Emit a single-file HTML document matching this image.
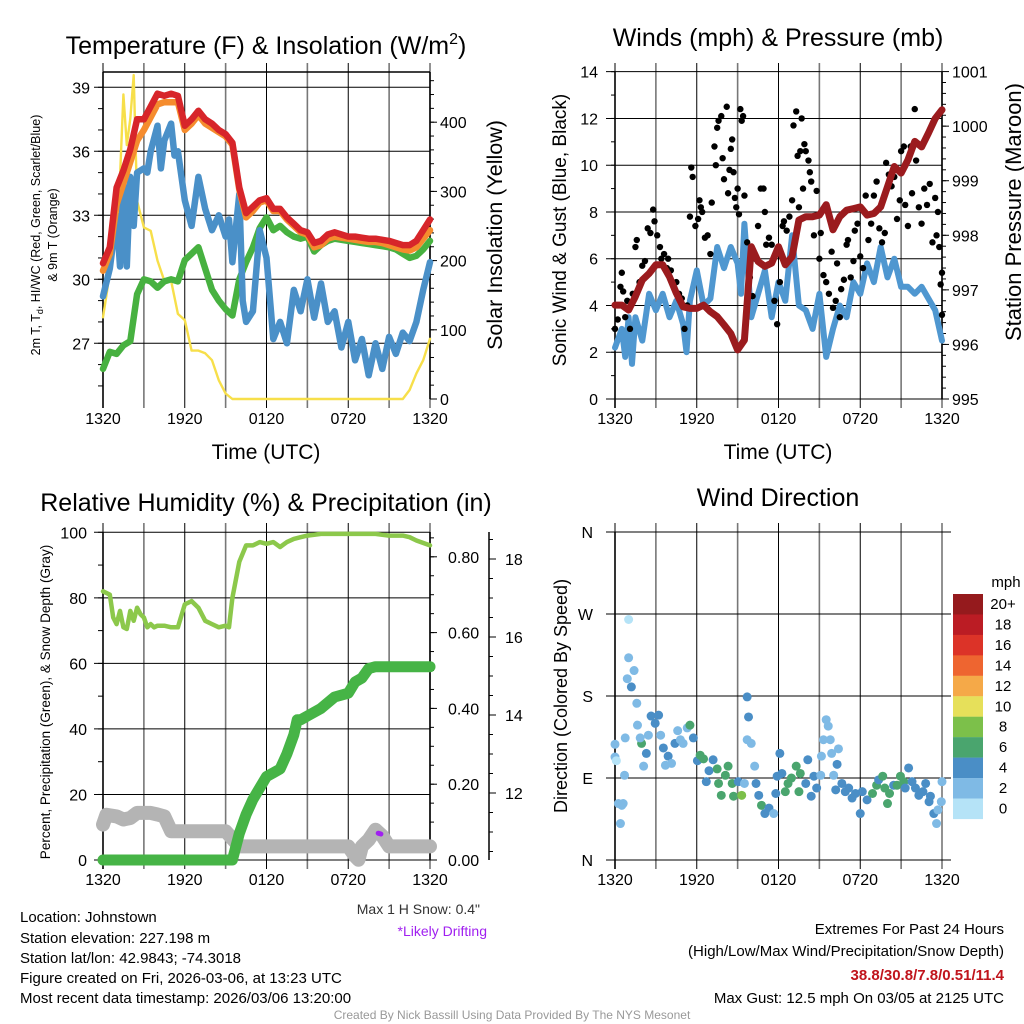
<!DOCTYPE html>
<html><head><meta charset="utf-8"><style>
body{margin:0;background:#fff}
svg{display:block;font-family:"Liberation Sans",sans-serif}
</style></head><body>
<svg id="s" width="1024" height="1024" viewBox="0 0 1024 1024" xmlns="http://www.w3.org/2000/svg">
<g id="g"></g>
<text x="266" y="54" font-size="25" text-anchor="middle">Temperature (F) &amp; Insolation (W/m<tspan dy="-10" font-size="16">2</tspan><tspan dy="10">)</tspan></text>
<text x="778" y="46" font-size="25" text-anchor="middle">Winds (mph) &amp; Pressure (mb)</text>
<text x="266" y="511" font-size="25" text-anchor="middle">Relative Humidity (%) &amp; Precipitation (in)</text>
<text x="778" y="506" font-size="25" text-anchor="middle">Wind Direction</text>
<text x="266" y="459" font-size="21" text-anchor="middle">Time (UTC)</text>
<text x="778" y="459" font-size="21" text-anchor="middle">Time (UTC)</text>
<text transform="translate(40,235) rotate(-90)" font-size="12.5" text-anchor="middle">2m T, T<tspan font-size="9" dy="3">d</tspan><tspan dy="-3">, HI/WC (Red, Green, Scarlet/Blue)</tspan></text>
<text transform="translate(57,235) rotate(-90)" font-size="12.5" text-anchor="middle">&amp; 9m T (Orange)</text>
<text transform="translate(502,235) rotate(-90)" font-size="21.5" text-anchor="middle">Solar Insolation (Yellow)</text>
<text transform="translate(566,230) rotate(-90)" font-size="19" text-anchor="middle">Sonic Wind &amp; Gust (Blue, Black)</text>
<text transform="translate(1021,212) rotate(-90)" font-size="22" text-anchor="middle">Station Pressure (Maroon)</text>
<text transform="translate(50,702) rotate(-90)" font-size="13.5" text-anchor="middle">Percent, Precipitation (Green), &amp; Snow Depth (Gray)</text>
<text transform="translate(567,696) rotate(-90)" font-size="18" text-anchor="middle">Direction (Colored By Speed)</text>
<g font-size="15">
<text x="20" y="922">Location: Johnstown</text>
<text x="20" y="943">Station elevation: 227.198 m</text>
<text x="20" y="963">Station lat/lon: 42.9843; -74.3018</text>
<text x="20" y="983">Figure created on Fri, 2026-03-06, at 13:23 UTC</text>
<text x="20" y="1003">Most recent data timestamp: 2026/03/06 13:20:00</text>
</g>
<text x="480" y="914" font-size="14" text-anchor="end" fill="#333">Max 1 H Snow: 0.4"</text>
<text x="487" y="936" font-size="14" text-anchor="end" fill="#a020f0">*Likely Drifting</text>
<g font-size="15" text-anchor="end">
<text x="1004" y="934">Extremes For Past 24 Hours</text>
<text x="1004" y="956">(High/Low/Max Wind/Precipitation/Snow Depth)</text>
<text x="1004" y="980" fill="#c0141c" font-weight="bold">38.8/30.8/7.8/0.51/11.4</text>
<text x="1004" y="1003">Max Gust: 12.5 mph On 03/05 at 2125 UTC</text>
</g>
<text x="512" y="1019" font-size="12" text-anchor="middle" fill="#999">Created By Nick Bassill Using Data Provided By The NYS Mesonet</text>
</svg>
<script>
// ---------- data ----------
const tHours=[0,0.5,1,1.5,2,2.5,3,3.5,4,4.5,5,5.5,6,6.5,7,7.5,8,8.5,9,9.5,10,10.5,11,11.5,12,12.5,13,13.5,14,14.5,15,15.5,16,16.5,17,17.5,18,18.5,19,19.5,20,20.5,21,21.5,22,22.5,23,23.5,24];
const tempT=[30.75,31.5,34.3,35.1,36.1,37.5,37.5,38.1,38.7,38.6,38.7,38.6,37.2,37.5,37.9,37.5,37.3,37.0,36.8,36.4,34.3,33.1,33.4,33.7,33.8,33.3,33.3,32.9,32.6,32.3,32.2,31.7,31.8,32.1,32.2,32.1,32.0,32.0,31.95,31.9,31.9,31.85,31.8,31.7,31.6,31.6,31.8,32.3,32.8];
const temp9m=[30.4,31.2,33.5,34.5,35.5,36.5,37.0,37.6,38.2,38.3,38.3,38.3,37.0,37.3,37.7,37.3,37.1,36.9,36.7,36.3,34.2,32.9,33.2,33.6,33.7,33.2,33.2,32.8,32.5,32.2,32.1,31.5,31.6,31.9,32.0,31.95,31.9,31.85,31.8,31.75,31.75,31.7,31.6,31.5,31.4,31.35,31.5,31.9,32.3];
const dewT=[25.8,26.6,26.5,26.9,27.1,29.3,30.0,29.9,29.6,29.9,30.0,29.9,30.9,31.2,31.5,30.5,29.5,29.0,28.6,28.3,30.0,30.8,31.5,32.4,32.9,32.3,32.5,32.2,32.0,31.9,32.0,31.3,31.6,31.8,31.9,31.85,31.8,31.75,31.7,31.65,31.6,31.55,31.5,31.4,31.2,31.0,31.1,31.4,31.8];
const wcHours=[0,0.5,1,1.25,1.5,1.75,2,2.25,2.5,3,3.25,3.5,4,4.25,4.5,5,5.25,5.5,6,6.5,7,7.5,8,8.5,9,9.25,9.5,10,10.25,10.5,11,11.5,12,12.5,13,13.5,14,14.5,15,15.5,16,16.5,17,17.5,18,18.5,19,19.5,20,20.5,21,21.5,22,22.5,23,23.5,24];
const wcT=[29.2,30.5,33,30.6,34.5,30.6,34.8,32.5,35,35.2,35.0,36,37.2,35.2,36.5,37.3,35.8,36.0,33.7,32.5,34.8,33.3,32.3,33.0,32.0,32.8,30.8,34,29,28,28.5,32.3,31.0,27.2,28.0,27.0,29.5,28.5,30.0,28.2,29.8,28.0,28.5,26.8,28.0,26.2,27.2,25.5,27.0,25.8,27.3,26.5,27.5,27.1,28.0,29.5,30.8];
const solarHours=[0,0.33,0.66,1,1.25,1.5,1.75,2,2.25,2.5,3,3.5,4,4.5,5,5.5,6,6.5,7,7.5,8,8.5,9,9.5,22,22.5,23,23.5,24];
const solar=[118,160,250,243,320,440,367,405,468,286,248,243,200,171,171,123,114,70,70,66,56,27,8,0,0,13,37,56,87];
const windHours=[0,0.5,0.75,1,1.25,1.5,2,2.5,3,3.5,4,4.5,5,5.25,5.5,6,6.5,7,7.5,8,8.5,9,9.25,9.5,10,10.5,11,11.5,12,12.5,13,13.5,14,14.5,15,15.5,16,16.5,17,17.5,18,18.5,19,19.5,20,20.5,21,21.5,22,22.5,23,23.5,24];
const windSpd=[2.2,3.0,1.8,3.5,1.5,3.5,2.5,4.5,3.8,4.5,3.5,4.2,3.2,2.0,4.2,5.5,4.0,4.3,6.5,5.6,6.5,5.8,4.5,7.5,3.5,4.5,5.5,3.5,5.0,4.2,7.0,4.0,3.8,3.0,4.5,1.8,3.0,4.0,3.5,5.0,4.5,5.8,5.0,6.5,5.2,6.0,4.8,4.8,4.5,4.8,4.3,3.8,2.5];
const pres=[996.72,996.72,996.63,996.88,997.18,997.30,997.46,997.46,997.24,996.94,996.69,996.66,996.66,996.72,996.60,996.51,996.36,996.20,995.90,996.08,997.79,997.52,997.43,997.49,997.79,997.46,997.61,998.28,998.34,998.34,998.37,998.56,998.10,998.34,998.46,998.49,998.52,998.37,998.40,998.52,998.89,999.26,999.14,999.38,999.72,999.62,999.87,1000.14,1000.30];
const gustHours=[0,0.2,0.4,0.5,0.6,0.75,0.9,1.1,1.3,1.5,1.6,1.8,2.0,2.2,2.4,2.6,2.8,2.9,3.1,3.3,3.4,3.6,3.8,3.9,4.1,4.3,4.5,4.7,4.9,5.1,5.3,5.5,5.6,5.7,5.9,6.1,6.2,6.3,6.4,6.6,6.8,7.0,7.1,7.3,7.4,7.5,7.6,7.8,7.9,8.0,8.2,8.3,8.4,8.5,8.6,8.7,8.8,8.9,9.0,9.1,9.2,9.3,9.4,9.5,9.7,9.9,10.1,10.3,10.5,10.7,10.9,11.0,11.1,11.3,11.5,11.7,11.9,12.1,12.3,12.4,12.6,12.8,13.0,13.1,13.3,13.4,13.5,13.6,13.7,13.8,13.9,14.0,14.2,14.3,14.4,14.6,14.8,15.0,15.1,15.3,15.5,15.7,15.9,16.0,16.2,16.3,16.5,16.6,16.8,17.0,17.1,17.3,17.5,17.6,17.8,18.0,18.2,18.4,18.6,18.8,19.0,19.2,19.4,19.6,19.8,19.9,20.1,20.3,20.5,20.7,20.9,21.0,21.2,21.3,21.5,21.7,21.8,22.0,22.1,22.3,22.5,22.7,22.9,23.1,23.3,23.5,23.6,23.7,23.8,23.9,24.0,24.0];
const gust=[3.0,3.4,4.8,5.4,4.6,3.5,4.2,3.0,4.5,6.5,6.8,5.0,5.7,5.9,7.3,7.1,8.1,7.6,7.0,6.5,6.0,6.2,5.6,6.0,5.5,4.8,5.0,4.5,4.3,3.0,4.0,7.8,9.9,9.5,7.4,7.7,8.5,8.2,8.0,6.9,7.0,6.2,8.4,10.8,10.0,11.6,11.9,12.1,10.3,9.4,12.5,8.8,9.8,10.7,11.1,9.7,8.6,8.2,9.0,7.9,12.4,11.9,12.1,8.7,6.7,5.2,4.4,6.0,7.4,9.0,9.0,8.0,6.6,6.9,6.6,4.2,3.2,5.0,7.4,7.6,7.2,7.8,8.5,11.7,12.3,10.4,8.2,10.6,12.0,9.0,10.9,10.6,10.2,9.7,9.3,7.0,8.9,6.0,7.1,5.3,5.0,4.5,6.3,3.9,4.2,5.8,3.5,4.7,5.1,6.6,6.8,5.2,5.9,7.2,7.5,6.1,5.6,8.7,6.8,7.5,8.7,9.3,7.3,6.7,7.1,10.1,9.6,9.1,9.5,7.7,8.5,10.6,10.8,8.3,7.4,10.8,8.8,12.4,10.2,8.2,7.5,9.0,8.3,9.2,6.7,8.6,7.0,8.0,6.5,4.9,5.4,3.6];
const rhHours=[0,0.5,0.75,1,1.25,1.5,1.75,2,2.25,2.5,2.75,3,3.25,3.5,3.75,4,4.5,5,5.5,6,6.5,7,7.5,8,8.5,9,9.25,9.5,10,10.5,11,11.5,12,12.5,13,13.5,14,14.5,15,16,17,18,19,20,21,22,22.5,23,24];
const rh=[82,81,74,72,76,71,70.5,76,73,77,75,74,71,72,71,71.5,71.5,71,71,78,79,77,73,72,71,71.5,71,80,91,96,96,97,96.5,97,95.5,97,98,98.5,99,99.5,99.5,99.5,99.5,99.5,99,99,98.5,97.5,96];
const prHours=[0,9.5,10,10.5,11,11.5,12,12.5,13,13.5,14,14.25,14.5,15,16,17,18,18.5,19,19.5,20,24];
const precip=[0,0,0.07,0.12,0.16,0.19,0.22,0.23,0.24,0.28,0.33,0.37,0.37,0.38,0.40,0.43,0.44,0.47,0.48,0.505,0.51,0.51];
const snHours=[0,0.25,1,1.5,2,2.5,3,3.5,4,4.5,5,6,7,8,9,10,11,18,18.5,18.75,19,19.5,20,20.5,21,22,24];
const snow=[11.19,11.44,11.4,11.32,11.36,11.49,11.49,11.49,11.45,11.4,11.02,11.02,11.02,11.02,11.02,10.63,10.63,10.63,10.38,10.29,10.63,10.8,11.06,10.9,10.63,10.63,10.63];
const driftHours=[20.2,20.4];
const driftSnow=[10.97,10.95];
const dirHours=[0,0,0.1,0.25,0.5,0.4,0.6,0.7,0.75,1.0,1.0,0.9,1.2,1.4,1.6,1.65,1.95,1.85,2.1,2.3,2.45,2.65,2.95,3.2,3.35,3.55,3.7,3.9,4.15,4.4,4.6,4.8,5.0,5.3,5.5,5.75,6.05,6.25,6.5,6.7,6.9,7.2,7.5,7.6,7.8,8.1,8.3,8.6,8.7,9.05,9.3,9.5,9.7,9.8,9.7,10.0,10.25,10.35,10.55,10.75,11.0,11.3,11.65,11.8,11.9,12.1,12.25,12.5,12.7,12.95,13.3,13.5,13.6,14.0,14.15,14.4,14.6,14.8,15.1,15.15,15.3,15.5,15.65,15.8,15.9,16.05,16.2,16.3,16.4,16.65,16.9,17.15,17.4,17.65,18.0,18.15,18.5,18.9,19.2,19.35,19.65,19.8,20.0,20.15,20.45,20.7,20.95,21.2,21.3,21.55,21.8,22.05,22.3,22.6,22.8,23.05,23.15,23.4,23.6,23.7,23.95,24.0];
const dirDeg=[127,113,109,62,60,40,62,93,134,264,222,199,190,208,172,148,128,134,103,117,137,158,150,159,137,123,104,114,106,128,142,132,128,145,148,134,109,115,111,86,98,110,100,84,71,93,103,84,70,86,71,84,179,157,132,128,103,84,71,60,51,57,51,73,92,117,95,75,84,90,103,75,95,84,110,70,92,79,93,114,132,154,147,132,117,93,77,105,122,84,75,79,68,73,51,75,66,73,82,88,92,79,62,73,82,82,92,86,79,101,86,79,71,75,84,64,70,51,40,55,64,86];
const dirSpd=[2,2,1,2,2,2,2,3,2,0,2,2,4,2,2,2,6,2,2,4,2,4,4,4,2,4,2,4,2,4,2,2,2,2,6,4,4,6,6,4,4,4,6,6,6,6,6,6,6,4,8,2,4,4,2,2,2,4,4,6,4,4,2,4,4,4,4,6,6,6,6,6,6,4,4,4,4,4,2,2,2,2,2,2,2,2,4,4,2,4,4,4,4,4,4,4,4,6,6,4,6,6,6,6,4,6,6,6,4,4,4,4,4,4,4,4,4,4,2,2,2,2];
const cbLabels=["20+","18","16","14","12","10","8","6","4","2","0"];
const cbColors=["#951a1d","#bb1c24","#dc3328","#ee6530","#f5a948","#e6e05a","#7cc04a","#4aa56e","#4a8ec6","#7fbae5","#b5e3f7"];
const xTickLabels=["1320","1920","0120","0720","1320"];
const tempTicks=[27,30,33,36,39];
const solarTicks=[0,100,200,300,400];
const windTicks=[0,2,4,6,8,10,12,14];
const presTicks=[995,996,997,998,999,1000,1001];
const rhTicks=[0,20,40,60,80,100];
const prTicks=[0,0.2,0.4,0.6,0.8];
const snTicks=[12,14,16,18];
const dirTicks=[0,90,180,270,360];
const dirNames=["N","E","S","W","N"];

// ---------- helpers ----------
const NS="http://www.w3.org/2000/svg";
const G=document.getElementById('g');
const FS=16;
function mk(tag,attrs,name,parent){const e=document.createElementNS(NS,tag);for(const k in attrs)e.setAttribute(k,attrs[k]);


(parent||G).appendChild(e);return e;}
function txt(x,y,s,anchor,size,name,fill){const t=mk('text',{x:x,y:y,'text-anchor':anchor,'font-size':size,fill:fill||'#000'},name);t.textContent=s;return t;}
function line(x1,y1,x2,y2,stroke,w,name){return mk('line',{x1:x1,y1:y1,x2:x2,y2:y2,stroke:stroke,'stroke-width':w},name);}
function path(xs,ys,fx,fy,stroke,w,name){let d='';for(let i=0;i<xs.length;i++)d+=(i?'L':'M')+fx(xs[i]).toFixed(1)+','+fy(ys[i]).toFixed(1);
return mk('path',{d:d,fill:'none',stroke:stroke,'stroke-width':w,'stroke-linejoin':'round','stroke-linecap':'round'},name);}

function frame(x0,x1,y0,y1){
  for(let k=0;k<=8;k++){const x=x0+k*(x1-x0)/8;const odd=k%2==1;
    line(x,y0-9,x,y1+9,(odd||k==8)?'#777':'#000',(odd||k==8)?1.6:1,'v-grid-line');}
  line(x0,y0,x0,y1+9,'#000',1.6,'left-axis-line');
  for(let k=0;k<5;k++)txt(x0+k*(x1-x0)/4,y1+25,xTickLabels[k],'middle',FS,'x-tick-label');
}
const xs1=h=>103+h*327/24, xs2=h=>615+h*327/24;

// ---------- panel 1 ----------
const yT=v=>87.3+(39-v)*21.33, yS=v=>399-v*0.692;
frame(103,430,72,399);
line(103,72,430,72,'#000',1.5,'top-border');
tempTicks.forEach(v=>{line(94,yT(v),430,yT(v),'#000',1,'h-grid-line');txt(90,yT(v)+6,String(v),'end',FS,'temp-tick-label');});
for(let v=25;v<=39.5;v+=1)line(98,yT(v),103,yT(v),'#000',1,'temp-minor-tick');
solarTicks.forEach(v=>{line(430,yS(v),437,yS(v),'#000',1,'solar-tick');txt(440,yS(v)+6,String(v),'start',FS,'solar-tick-label');});
for(let v=0;v<=460;v+=20)line(430,yS(v),434,yS(v),'#000',1,'solar-minor-tick');
line(430,72,430,399,'#000',1.5,'right-axis-line');
path(solarHours,solar,xs1,yS,'#f7df4a',2.4,'solar-line');
path(tHours,dewT,xs1,yT,'#47b140',6.5,'dewpoint-line');
path(wcHours,wcT,xs1,yT,'#4a90c8',6.5,'windchill-line');
path(tHours,temp9m,xs1,yT,'#f58c2e',6.5,'temp-9m-line');
path(tHours,tempT,xs1,yT,'#d7252a',6.5,'temp-2m-line');

// ---------- panel 2 ----------
const yW=v=>399-v*23.38, yP=p=>399-(p-995)*54.57;
frame(615,942,72,399);
windTicks.forEach(v=>{line(606,yW(v),942,yW(v),'#000',1,'h-grid-line');txt(598,yW(v)+6,String(v),'end',FS,'wind-tick-label');});
for(let v=0;v<=14;v+=1)line(611,yW(v),615,yW(v),'#000',1,'wind-minor-tick');
presTicks.forEach(v=>{line(942,yP(v),949,yP(v),'#000',1,'pres-tick');txt(952,yP(v)+6,String(v),'start',FS,'pres-tick-label');});
for(let v=995;v<=1001;v+=0.2)line(942,yP(v),946,yP(v),'#000',1,'pres-minor-tick');
line(942,72,942,399,'#000',1.5,'right-axis-line');
path(windHours,windSpd,xs2,yW,'#4f97d0',6,'sonic-wind-line');
gustHours.forEach((h,i)=>mk('circle',{cx:xs2(h),cy:yW(gust[i]),r:3.2,fill:'#000'},'gust-point'));
path(tHours,pres,xs2,yP,'#9b1b1e',7,'pressure-line');

// ---------- panel 3 ----------
const yR=v=>860-v*3.277, yPr=v=>860-v*379, ySn=s=>793-(s-12)*39;
frame(103,430,532,860);
rhTicks.forEach(v=>{line(94,yR(v),430,yR(v),'#000',1,'h-grid-line');txt(87,yR(v)+6,String(v),'end',FS,'rh-tick-label');});
for(let v=0;v<=100;v+=10)line(98,yR(v),103,yR(v),'#000',1,'rh-minor-tick');
prTicks.forEach(v=>{line(430,yPr(v),437,yPr(v),'#000',1,'precip-tick');txt(448,yPr(v)+6,v.toFixed(2),'start',FS,'precip-tick-label');});
for(let v=0;v<=0.86;v+=0.05)line(430,yPr(v),434,yPr(v),'#000',1,'precip-minor-tick');
line(430,532,430,860,'#000',1.5,'right-axis-line');
line(489,532,489,860,'#000',1.5,'snow-axis-line');
snTicks.forEach(v=>{line(489,ySn(v),496,ySn(v),'#000',1,'snow-tick');txt(505,ySn(v)+6,String(v),'start',FS,'snow-tick-label');});
for(let v=10.5;v<=18.6;v+=0.5)line(489,ySn(v),493,ySn(v),'#000',1,'snow-minor-tick');
path(snHours,snow,xs1,ySn,'#b4b4b4',14,'snow-depth-line');
path(driftHours,driftSnow,xs1,ySn,'#a020f0',5,'drift-marker');
path(rhHours,rh,xs1,yR,'#8cc84b',4.5,'rh-line');
path(prHours,precip,xs1,yPr,'#46b446',11,'precip-line');

// ---------- panel 4 ----------
const yD=d=>860-d*0.911;
frame(615,942,532,860);
dirTicks.forEach((d,i)=>{line(606,yD(d),951,yD(d),'#000',1,'h-grid-line');txt(593,yD(d)+6,dirNames[i],'end',16,'dir-tick-label');});
function spdColor(s){const idx=Math.min(10,Math.floor(s/2));return cbColors[10-idx];}
dirHours.forEach((h,i)=>mk('circle',{cx:xs2(h),cy:yD(dirDeg[i]),r:4.5,fill:spdColor(dirSpd[i])},'wind-dir-point'));
cbColors.forEach((c,i)=>{mk('rect',{x:953,y:594+i*20.45,width:30,height:20.6,fill:c},'colorbar-box');
  txt(1003,594+i*20.45+15,cbLabels[i],'middle',15,'colorbar-label');});
txt(1006,587,'mph','middle',15,'colorbar-title');
</script>
</body></html>
